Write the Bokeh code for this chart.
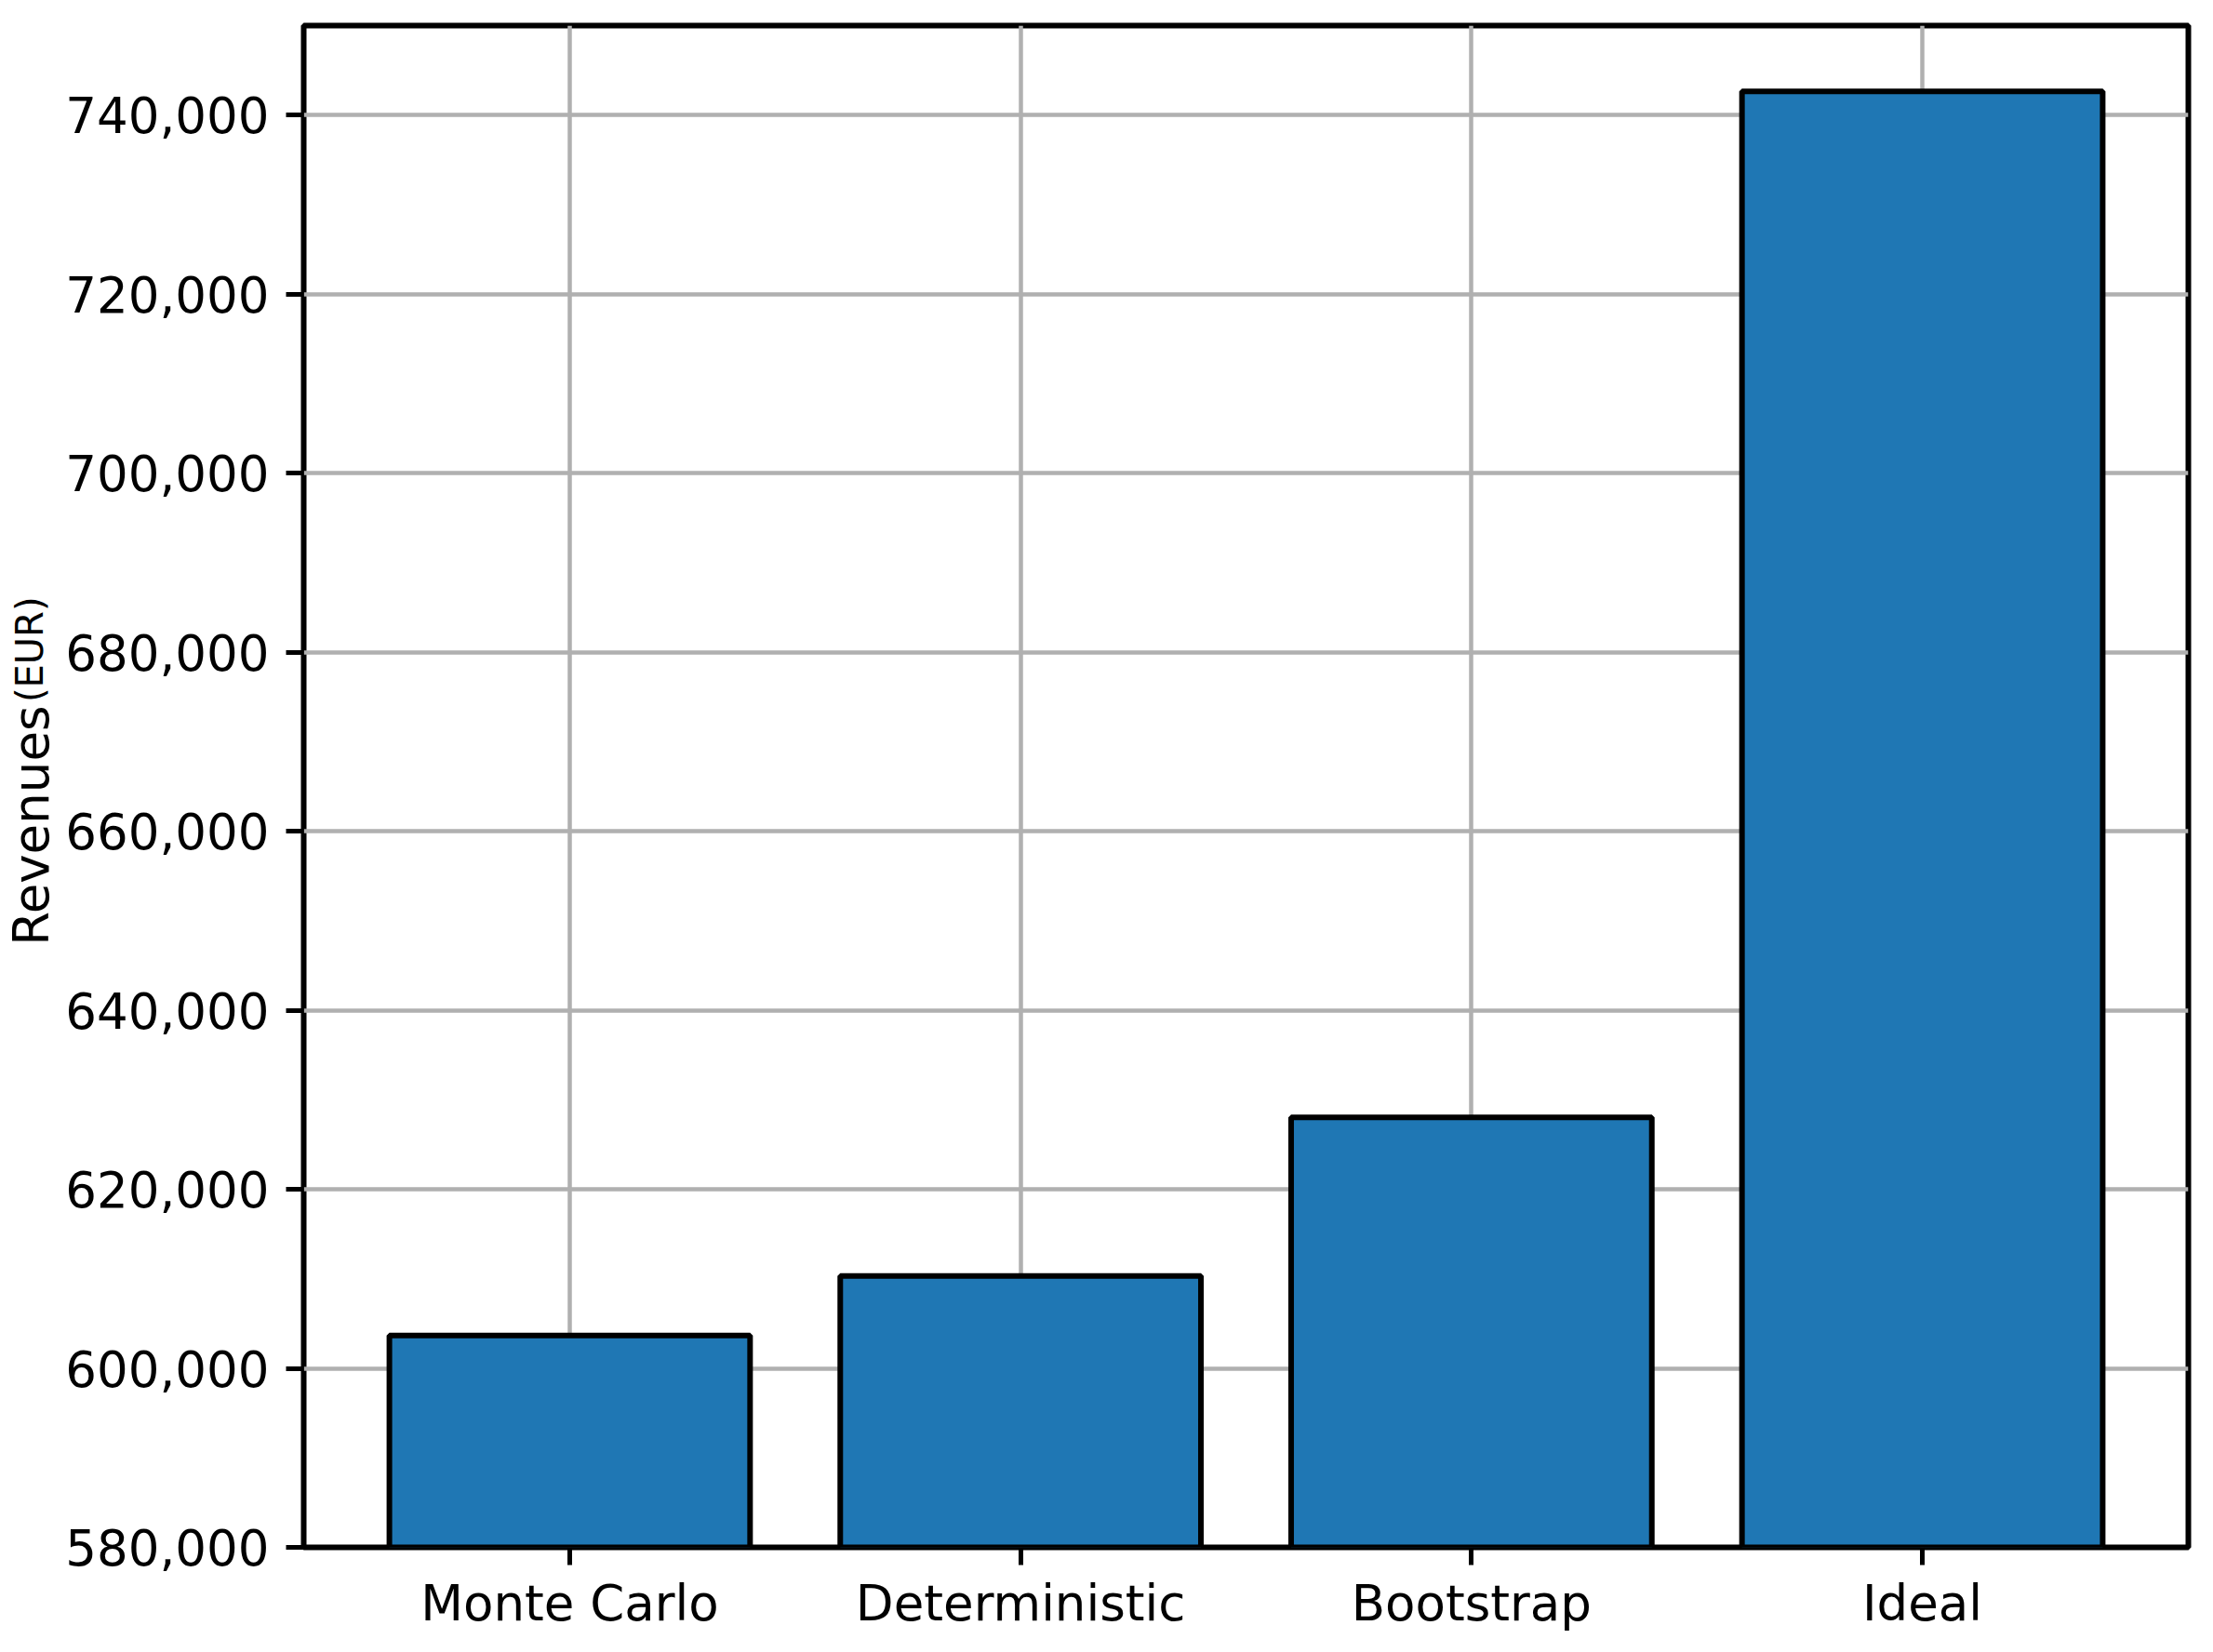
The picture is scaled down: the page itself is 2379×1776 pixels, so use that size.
from bokeh.plotting import figure
from bokeh.layouts import row
from bokeh.models import Range1d, FactorRange, SingleIntervalTicker, NumeralTickFormatter, Label
from bokeh.embed import file_html
from bokeh.resources import INLINE

categories = ["Monte Carlo", "Deterministic", "Bootstrap", "Ideal"]
revenues = [603670, 610320, 628030, 742660]
y_label_main = "Revenues"
y_label_unit = "(EUR)"

FONT = "DejaVu Sans"
H = 1768
LW = 67  # width of the strip holding the y-axis title
Y0, Y1 = 580000, 750000

# strip with the rotated y-axis title (main word + smaller unit)
t = figure(width=LW, height=H, x_range=Range1d(0, LW), y_range=Range1d(Y0, Y1),
           output_backend="svg", toolbar_location=None,
           min_border_left=0, min_border_right=0,
           min_border_top=27, min_border_bottom=105)
t.axis.visible = False
t.grid.visible = False
t.outline_line_color = None
t.background_fill_color = "white"
t.border_fill_color = "white"
t.add_layout(Label(x=33, y=647200, angle=90, angle_units="deg", text=y_label_main,
                   text_font=FONT, text_font_size="53px", text_color="black",
                   text_baseline="alphabetic", text_align="left"))
t.add_layout(Label(x=31, y=674400, angle=90, angle_units="deg", text=y_label_unit,
                   text_font=FONT, text_font_size="40px", text_color="black",
                   text_baseline="alphabetic", text_align="left"))

p = figure(
    width=2370 - LW, height=H,
    x_range=FactorRange(factors=categories, range_padding=0.045),
    y_range=Range1d(Y0, Y1),
    output_backend="svg", toolbar_location=None,
    min_border_left=326 - LW, min_border_top=27, min_border_right=18, min_border_bottom=105,
)

p.vbar(x=categories, top=revenues, bottom=0, width=0.8,
       fill_color="#1f77b4", line_color="black", line_width=6)

p.outline_line_color = "black"
p.outline_line_width = 6
p.outline_line_alpha = 1

for ax in (p.xaxis[0], p.yaxis[0]):
    ax.axis_line_color = None
    ax.major_tick_line_color = "black"
    ax.major_tick_line_width = 5
    ax.major_tick_out = 19
    ax.major_tick_in = 0
    ax.minor_tick_line_color = None
    ax.major_label_text_font = FONT
    ax.major_label_text_font_size = "53px"
    ax.major_label_text_color = "black"

p.xaxis.major_label_standoff = 10
p.yaxis.major_label_standoff = 18
p.yaxis.ticker = SingleIntervalTicker(interval=20000)
p.yaxis.formatter = NumeralTickFormatter(format="0,0")

p.xgrid.grid_line_color = "#b0b0b0"
p.xgrid.grid_line_width = 4.5
p.ygrid.grid_line_color = "#b0b0b0"
p.ygrid.grid_line_width = 4.5
p.ygrid.ticker = SingleIntervalTicker(interval=20000)

p.background_fill_color = "white"
p.border_fill_color = "white"

layout = row(t, p, spacing=0)
open("out.html", "w").write(file_html(layout, INLINE))
